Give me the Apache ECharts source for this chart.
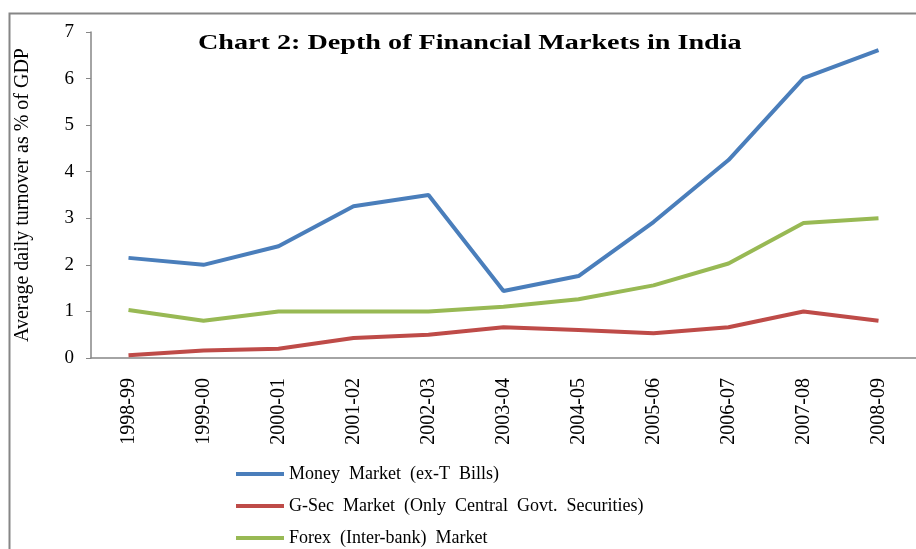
<!DOCTYPE html>
<html>
<head>
<meta charset="utf-8">
<script src="https://cdn.jsdelivr.net/npm/echarts@6/dist/echarts.min.js"></script>
<style>
  html, body { margin: 0; padding: 0; background: #fff; }
  #chart { width: 916px; height: 549px; }
</style>
</head>
<body>
<div id="chart"></div>
<script>
// 财年类目
const years = ["1998-99", "1999-00", "2000-01", "2001-02", "2002-03", "2003-04",
  "2004-05", "2005-06", "2006-07", "2007-08", "2008-09"];

// 各市场日均成交额占 GDP 比重（%）
const moneyMarket = [2.15, 2.0, 2.4, 3.26, 3.5, 1.44, 1.76, 2.92, 4.25, 6.01, 6.61];
const gsecMarket = [0.06, 0.16, 0.2, 0.43, 0.5, 0.66, 0.6, 0.53, 0.66, 1.0, 0.8];
const forexMarket = [1.03, 0.8, 1.0, 1.0, 1.0, 1.1, 1.26, 1.56, 2.03, 2.9, 3.0];

const seriesNames = [
  "Money Market (ex-T Bills)",
  "G-Sec Market (Only Central Govt. Securities)",
  "Forex (Inter-bank) Market",
];
const COLORS = ["#4a7ebb", "#be4b48", "#98b954"];
const AXIS_GRAY = "#868686";
const FONT = "Liberation Serif";

const chart = echarts.init(document.getElementById("chart"));

const line = (name, data, color) => ({
  name,
  type: "line",
  data,
  symbol: "none",
  lineStyle: { width: 4, color },
  itemStyle: { color },
});

// 原图图例文字的词距较宽，这里用不换行空格加宽
const wideSpaces = (s) => s.replace(/ /g, "\u00a0\u00a0");

chart.setOption({
  animation: false,
  textStyle: { fontFamily: FONT },
  graphic: [
    {
      type: "rect",
      shape: { x: 9.5, y: 13.5, width: 1000, height: 600 },
      style: { fill: "none", stroke: AXIS_GRAY, lineWidth: 2 },
      silent: true,
    },
    {
      type: "text",
      x: 198,
      y: 32,
      scaleX: 1.28,
      style: {
        text: "Chart 2: Depth of Financial Markets in India",
        font: "bold 22px 'Liberation Serif'",
        fill: "#000",
      },
    },
  ],
  grid: { left: 91, top: 32, bottom: 191, right: -2 },
  legend: {
    orient: "vertical",
    left: 236,
    top: 465,
    padding: 0,
    itemGap: 14,
    itemWidth: 48,
    itemHeight: 4,
    icon: "rect",
    data: seriesNames,
    formatter: wideSpaces,
    textStyle: { fontFamily: FONT, fontSize: 18, color: "#000" },
  },
  xAxis: {
    type: "category",
    data: years,
    boundaryGap: true,
    axisLine: { lineStyle: { color: AXIS_GRAY, width: 1.5 } },
    axisTick: { alignWithLabel: false, length: 5, lineStyle: { color: AXIS_GRAY } },
    axisLabel: {
      rotate: 90,
      fontSize: 20,
      color: "#000",
      fontFamily: FONT,
      margin: 20,
    },
  },
  yAxis: {
    type: "value",
    min: 0,
    max: 7,
    interval: 1,
    name: "Average daily turnover as % of GDP",
    nameLocation: "middle",
    nameGap: 58,
    nameTextStyle: { fontSize: 20, color: "#000", fontFamily: FONT },
    axisLine: { show: true, lineStyle: { color: AXIS_GRAY, width: 1.5 } },
    axisTick: { show: true, length: 5, lineStyle: { color: AXIS_GRAY } },
    axisLabel: { fontSize: 19, color: "#000", fontFamily: FONT, margin: 17 },
    splitLine: { show: false },
  },
  series: [
    line(seriesNames[0], moneyMarket, COLORS[0]),
    line(seriesNames[1], gsecMarket, COLORS[1]),
    line(seriesNames[2], forexMarket, COLORS[2]),
  ],
});
</script>
</body>
</html>
